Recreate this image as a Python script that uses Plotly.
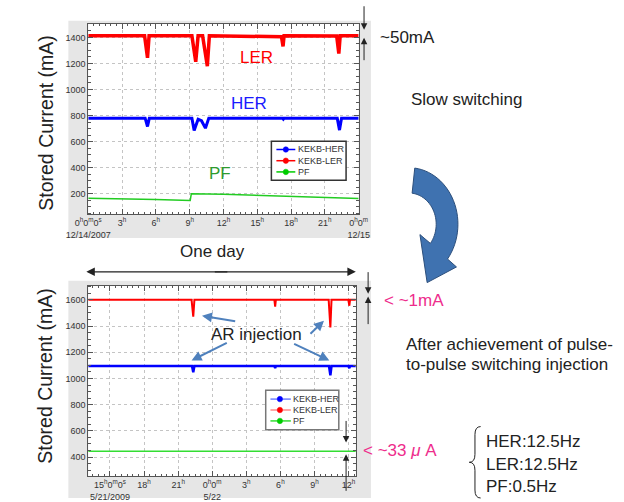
import numpy as np
import plotly.graph_objects as go

W, H = 624, 502

# ---------------- data ----------------
# Top chart: 12/14/2007, hours 0..24
top_ler_t = [0, 5.0, 5.26, 5.4, 9.2, 9.54, 9.75, 10.15, 10.57, 10.75, 17.15, 17.29, 17.38, 22.05, 22.24, 22.36, 24]
top_ler_v = [1412, 1412, 1243, 1412, 1412, 1213, 1412, 1412, 1179, 1412, 1405, 1331, 1412, 1410, 1276, 1412, 1412]
top_her_t = [0, 5.05, 5.26, 5.42, 9.2, 9.4, 9.75, 10.05, 10.4, 10.7, 17.25, 17.32, 17.4, 22.1, 22.3, 22.48, 24]
top_her_v = [780, 780, 716, 780, 780, 686, 772, 760, 703, 780, 780, 772, 780, 780, 688, 780, 780]
top_pf_t = [0, 3.0, 6.0, 9.05, 9.15, 12.0, 15.0, 18.0, 21.0, 24.0]
top_pf_v = [165, 162, 155, 148, 200, 196, 189, 182, 172, 164]

# Bottom chart: 5/21/2009 13h .. 5/22 12.6h (hours from 5/21 0h)
bot_ler_t = [13.085, 22.18, 22.33, 22.43, 29.47, 29.54, 29.6, 34.25, 34.4, 34.5, 35.98, 36.07, 36.13, 36.64]
bot_ler_v = [1600, 1600, 1471, 1600, 1600, 1549, 1600, 1600, 1390, 1600, 1600, 1555, 1600, 1600]
bot_her_t = [13.085, 22.22, 22.33, 22.43, 29.47, 29.54, 29.6, 34.28, 34.4, 34.5, 35.98, 36.07, 36.13, 36.64]
bot_her_v = [1095, 1095, 1048, 1095, 1095, 1080, 1095, 1095, 1023, 1095, 1095, 1078, 1095, 1095]
bot_pf_t = [13.085, 36.64]
bot_pf_v = [445, 445]

top_xtickvals = [0, 3, 6, 9, 12, 15, 18, 21, 24]
top_xticktext = ["0<sup>h</sup>0<sup>m</sup>0<sup>s</sup><br>12/14/2007", "3<sup>h</sup>", "6<sup>h</sup>",
                 "9<sup>h</sup>", "12<sup>h</sup>", "15<sup>h</sup>", "18<sup>h</sup>", "21<sup>h</sup>",
                 "0<sup>h</sup>0<sup>m</sup><br>12/15"]
bot_xtickvals = [15, 18, 21, 24, 27, 30, 33, 36]
bot_xticktext = ["15<sup>h</sup>0<sup>m</sup>0<sup>s</sup><br>5/21/2009", "18<sup>h</sup>", "21<sup>h</sup>",
                 "0<sup>h</sup>0<sup>m</sup><br>5/22", "3<sup>h</sup>", "6<sup>h</sup>", "9<sup>h</sup>", "12<sup>h</sup>"]
top_ytickvals = [200, 400, 600, 800, 1000, 1200, 1400]
bot_ytickvals = [400, 600, 800, 1000, 1200, 1400, 1600]
series_names = ["KEKB-HER", "KEKB-LER", "PF"]

# ---------------- helpers ----------------
def px(x):
    return x / W

def py(y):
    return 1 - y / H

FONT = "Arial, Liberation Sans, sans-serif"

fig = go.Figure()

fig.add_trace(go.Scatter(x=top_pf_t, y=top_pf_v, mode="lines", line=dict(color="#22cc22", width=1.5),
                         showlegend=False, xaxis="x", yaxis="y", hoverinfo="skip"))
fig.add_trace(go.Scatter(x=top_her_t, y=top_her_v, mode="lines", line=dict(color="#0000ff", width=3),
                         showlegend=False, xaxis="x", yaxis="y", hoverinfo="skip"))
fig.add_trace(go.Scatter(x=top_ler_t, y=top_ler_v, mode="lines", line=dict(color="#ff0000", width=3.5),
                         showlegend=False, xaxis="x", yaxis="y", hoverinfo="skip"))

fig.add_trace(go.Scatter(x=bot_pf_t, y=bot_pf_v, mode="lines", line=dict(color="#33dd33", width=1.5),
                         showlegend=False, xaxis="x2", yaxis="y2", hoverinfo="skip"))
fig.add_trace(go.Scatter(x=bot_her_t, y=bot_her_v, mode="lines", line=dict(color="#0000ff", width=2.5),
                         showlegend=False, xaxis="x2", yaxis="y2", hoverinfo="skip"))
fig.add_trace(go.Scatter(x=bot_ler_t, y=bot_ler_v, mode="lines", line=dict(color="#ff0000", width=2),
                         showlegend=False, xaxis="x2", yaxis="y2", hoverinfo="skip"))

ax_common = dict(showline=True, linecolor="#555", linewidth=1, mirror="ticks", ticks="inside",
                 ticklen=5, tickcolor="#555", showgrid=True, gridcolor="#c4c4c4", griddash="dot",
                 gridwidth=1, zeroline=False, tickfont=dict(size=9, color="#333", family=FONT))

def minor(dt):
    return dict(ticks="inside", ticklen=2.5, tickcolor="#555", tickmode="linear", tick0=0, dtick=dt, showgrid=False)

fig.update_layout(
    width=W, height=H, margin=dict(l=0, r=0, t=0, b=0),
    paper_bgcolor="white", plot_bgcolor="white", showlegend=False,
    font=dict(family=FONT, color="#222"),
    xaxis=dict(domain=[px(69), px(355)], range=[0, 24], anchor="y", tickmode="array",
               tickvals=top_xtickvals, ticktext=top_xticktext, minor=minor(0.5), **ax_common),
    yaxis=dict(domain=[py(216), py(24)], range=[42, 1504], anchor="x", tickmode="array",
               tickvals=top_ytickvals, minor=minor(50), **ax_common),
    xaxis2=dict(domain=[px(69), px(352)], range=[13.085, 36.64], anchor="y2", tickmode="array",
                tickvals=bot_xtickvals, ticktext=bot_xticktext, minor=minor(0.5), **ax_common),
    yaxis2=dict(domain=[py(480), py(288)], range=[254, 1708], anchor="x2", tickmode="array",
                tickvals=bot_ytickvals, minor=minor(50), **ax_common),
)

shapes = []
anns = []

def text(x, y, s, size=17, color="#222", xanchor="center", angle=0):
    anns.append(dict(x=px(x), y=py(y), xref="paper", yref="paper", text=s, showarrow=False,
                     xanchor=xanchor, yanchor="middle", textangle=angle,
                     font=dict(size=size, color=color, family=FONT)))

def arrow(hx, hy, tx, ty, color="#222", width=1, size=1.3, head=2):
    anns.append(dict(x=px(hx), y=py(hy), xref="paper", yref="paper", ax=tx - hx, ay=ty - hy,
                     axref="pixel", ayref="pixel", text="", showarrow=True, arrowhead=head,
                     arrowsize=size, arrowwidth=width, arrowcolor=color, standoff=0, startstandoff=0))

# gray panels and white plot areas
for (x0, y0, x1, y1), (a0, b0, a1, b1) in [((48, 21, 368, 240), (69, 24, 355, 216)),
                                            ((48, 283, 368, 502), (69, 288, 352, 480))]:
    shapes.append(dict(type="rect", xref="paper", yref="paper", x0=px(x0), x1=px(x1), y0=py(y1), y1=py(y0),
                       fillcolor="#e6e6e6", line=dict(width=0), layer="below"))
    shapes.append(dict(type="rect", xref="paper", yref="paper", x0=px(a0), x1=px(a1), y0=py(b1), y1=py(b0),
                       fillcolor="white", line=dict(width=0), layer="below"))

# custom legends (compact, as in the reference)
def legend_box(x0, y0, x1, y1, border, rows, lx0, lx1, mx, tx, line_cols, mark_cols):
    shapes.append(dict(type="rect", xref="paper", yref="paper", x0=px(x0), x1=px(x1), y0=py(y1), y1=py(y0),
                       fillcolor="white", line=dict(color=border, width=1.5)))
    for ry, name, lc, mc in zip(rows, series_names, line_cols, mark_cols):
        shapes.append(dict(type="line", xref="paper", yref="paper", x0=px(lx0), x1=px(lx1), y0=py(ry), y1=py(ry),
                           line=dict(color=lc, width=1.5)))
        shapes.append(dict(type="circle", xref="paper", yref="paper", x0=px(mx - 2.8), x1=px(mx + 2.8),
                           y0=py(ry + 2.8), y1=py(ry - 2.8), fillcolor=mc, line=dict(color=mc, width=0.5)))
        text(tx, ry, name, size=9, color="#333", xanchor="left")

legend_box(262.7, 142.3, 341.7, 181.7, "#333", [150.7, 162.0, 173.3], 268, 288, 278, 288.5,
           ["#0000ff", "#ff0000", "#00cc00"], ["#0000ff", "#ff0000", "#00cc00"])
legend_box(256.7, 393.3, 334, 433.3, "#777", [402.3, 413.3, 424.3], 261.7, 283.3, 271.7, 283.5,
           ["#6f7fff", "#ff8a8a", "#33dd33"], ["#0000ff", "#ff0000", "#00cc00"])

# curved arrow (elliptical band with head)
C = (408.0, 226.0)
rxo, ryo, rxi, ryi = 52.0, 57.0, 29.0, 31.5
th0, th1 = np.deg2rad(-83), np.deg2rad(38)
ths = np.linspace(th0, th1, 30)
outer = [(C[0] + rxo * np.cos(t), C[1] + ryo * np.sin(t)) for t in ths]
inner = [(C[0] + rxi * np.cos(t), C[1] + ryi * np.sin(t)) for t in ths[::-1]]
barb_out = (C[0] + 64 * np.cos(th1), C[1] + 70 * np.sin(th1))
barb_in = (C[0] + 15 * np.cos(th1), C[1] + 17 * np.sin(th1))
mid = (C[0] + 40 * np.cos(th1), C[1] + 44 * np.sin(th1))
d = (-np.sin(th1 - 0.3), np.cos(th1 - 0.3))
tip = (mid[0] + 34 * d[0], mid[1] + 34 * d[1])
pts = outer + [barb_out, tip, barb_in] + inner
path = "M " + " L ".join(f"{px(x):.5f},{py(y):.5f}" for x, y in pts) + " Z"
shapes.append(dict(type="path", xref="paper", yref="paper", path=path, fillcolor="#3f72b0",
                   line=dict(color="#2c4f7c", width=1)))

# brace
brace = [("M", 484, 430), ("Q", 478, 430, 478, 438), ("L", 478, 458), ("Q", 478, 466, 472, 466),
         ("Q", 478, 466, 478, 474), ("L", 478, 494), ("Q", 478, 502, 484, 502)]
bp = ""
for seg in brace:
    coords = seg[1:]
    pairs = [f"{px(coords[i]):.5f},{py(coords[i+1]):.5f}" for i in range(0, len(coords), 2)]
    bp += seg[0] + " " + " ".join(pairs) + " "
shapes.append(dict(type="path", xref="paper", yref="paper", path=bp.strip(), line=dict(color="#222", width=1)))

text(23.5, 123.5, "Stored Current (mA)", size=19.5, angle=-90)
text(23.5, 378.5, "Stored Current (mA)", size=19.5, angle=-90)
text(246.5, 58, "LER", color="#ff0000")
text(239.5, 104, "HER", color="#1a1aff")
text(208.5, 175, "PF", color="#2e9b2e")
text(200, 254, "One day")
text(375, 38, "~50mA", xanchor="left")
text(408, 100, "Slow switching", xanchor="left")
text(380, 303, "< ~1mA", color="#ee2d8c", xanchor="left")
text(403, 347, "After achievement of pulse-", xanchor="left")
text(403, 367, "to-pulse switching injection", xanchor="left")
text(357, 454, "< ~33 <i>μ</i> A", color="#ee2d8c", xanchor="left")
text(488, 445, "HER:12.5Hz", xanchor="left")
text(488, 468, "LER:12.5Hz", xanchor="left")
text(488, 490, "PF:0.5Hz", xanchor="left")
text(246.5, 337, "AR injection")

arrow(360.7, 30, 360.7, 5)
arrow(360.7, 38, 360.7, 62)
arrow(365, 296, 365, 273)
arrow(365, 299, 365, 328)
arrow(341.7, 446, 341.7, 423)
arrow(341.7, 458, 341.7, 496)
arrow(67, 274, 209.5, 274, width=1.3)
arrow(352, 274, 209.5, 274, width=1.3)
blue = "#4f81bd"
arrow(189.3, 318.3, 224, 324, color=blue, width=2, size=1)
arrow(318.3, 323.3, 303.3, 337.7, color=blue, width=2, size=1)
arrow(178.3, 363.3, 215, 345, color=blue, width=2, size=1)
arrow(324, 363.3, 287.3, 346, color=blue, width=2, size=1)

fig.update_layout(shapes=shapes, annotations=anns)

fig.write_html("out.html")
